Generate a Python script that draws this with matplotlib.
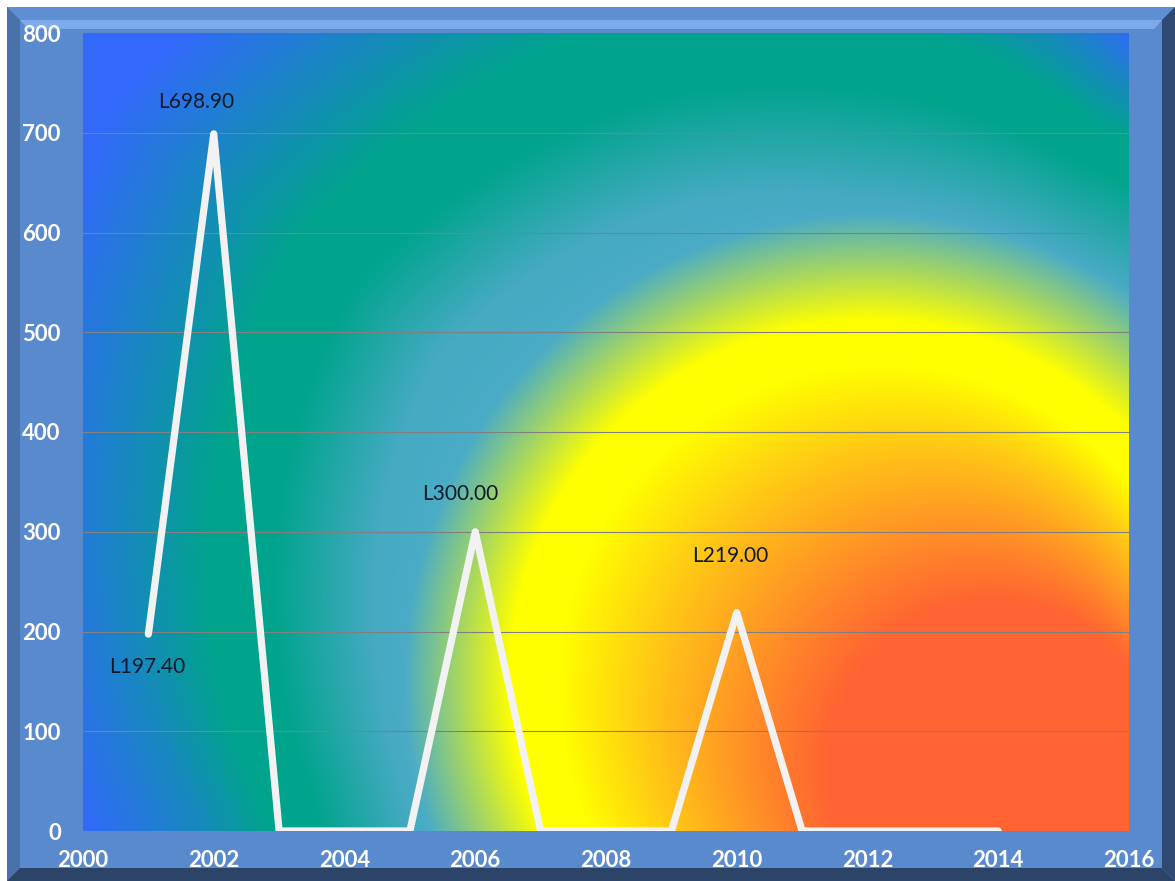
import numpy as np
import matplotlib
matplotlib.use('Agg')
import matplotlib.pyplot as plt
from matplotlib.patches import Polygon

# данные
years = [2001, 2002, 2003, 2004, 2005, 2006, 2007, 2008, 2009, 2010, 2011, 2012, 2013, 2014]
values = [197.4, 698.9, 0, 0, 0, 300.0, 0, 0, 0, 219.0, 0, 0, 0, 0]
labelled = [2001, 2002, 2006, 2010]
label_text = ['L197.40', 'L698.90', 'L300.00', 'L219.00']
label_offsets = [(-1, -24), (-13, 23), (-11, 27), (-5, 41)]  # в пунктах
xticks = list(range(2000, 2017, 2))
yticks = list(range(0, 801, 100))

W, H = 1175, 881
fig = plt.figure(figsize=(W / 100, H / 100), dpi=100)
fig.patch.set_facecolor('white')

def fp(px, py):
    return (px / W, 1 - py / H)

# рамка с фаской
def poly(pts, color):
    fig.add_artist(Polygon([fp(*p) for p in pts], closed=True, transform=fig.transFigure,
                           facecolor=color, edgecolor='none', zorder=0))

poly([(7, 7), (1175, 7), (1175, 881), (7, 881)], '#5A8ACE')
poly([(7, 7), (1175, 7), (1162, 20), (20, 20)], '#5E8FD3')
poly([(20, 20), (1162, 20), (1154, 29), (28, 29)], '#7DAAEA')
poly([(7, 7), (20, 20), (20, 868), (7, 881)], '#4A72AA')
poly([(1175, 7), (1162, 20), (1162, 868), (1175, 881)], '#2E4A72')
poly([(7, 881), (20, 868), (1162, 868), (1175, 881)], '#2C4468')

# область построения
x0, x1, y0, y1 = 83, 1129, 33, 831
l, b = fp(x0, y1)
r, t = fp(x1, y0)
ax = fig.add_axes([l, b, r - l, t - b])

# фон: красное ядро -> жёлтое кольцо -> голубой/зелёный/синий снаружи
xs = x0 + np.arange(x1 - x0) + 0.5
ys = y0 + np.arange(y1 - y0) + 0.5
X, Y = np.meshgrid(xs, ys)

cB, rB = np.array([995.0, 770.0]), 170.0
cC, rC = np.array([870.0, 680.0]), 335.0

# внутренняя часть: семейство окружностей между B и C (бисекция)
lo = np.zeros_like(X)
hi = np.ones_like(X)
for _ in range(30):
    mid = (lo + hi) / 2
    cx = cB[0] + mid * (cC[0] - cB[0])
    cy = cB[1] + mid * (cC[1] - cB[1])
    g = np.hypot(X - cx, Y - cy) - (rB + mid * (rC - rB))
    lo = np.where(g > 0, mid, lo)
    hi = np.where(g > 0, hi, mid)
tin = lo

inner_stops = [0.0, 0.25, 0.6, 0.92, 1.0]
inner_cols = np.array([(255, 100, 50), (255, 140, 40), (255, 198, 22), (255, 255, 0),
                       (255, 255, 0)]) / 255
img_in = np.dstack([np.interp(tin, inner_stops, inner_cols[:, i]) for i in range(3)])

# внешняя часть: концентрично C, радиусы внешних полос зависят от направления
dist = np.hypot(X - cC[0], Y - cC[1])
ang = np.degrees(np.arctan2(Y - cC[1], X - cC[0]))
key_ang = [-180, -143, -110, -90, -68, 0, 90, 169, 180]
rl2 = np.interp(ang, key_ang, [490, 540, 510, 480, 470, 470, 480, 480, 490])
rg1 = np.interp(ang, key_ang, [590, 650, 620, 590, 560, 560, 570, 570, 590])
rg2 = np.interp(ang, key_ang, [650, 720, 700, 660, 600, 600, 620, 620, 650])
rt = np.interp(ang, key_ang, [730, 830, 800, 740, 650, 650, 690, 690, 730])
rb = np.interp(ang, key_ang, [830, 950, 900, 820, 700, 700, 800, 800, 830])
radii = [np.full_like(dist, rC), np.full_like(dist, 360.0), np.full_like(dist, 465.0),
         rl2, rg1, rg2, rt, rb]
out_cols = np.array([(255, 255, 0), (255, 255, 0), (74, 172, 198), (70, 170, 195),
                     (0, 164, 140), (0, 164, 140), (24, 136, 192), (50, 105, 250)]) / 255
u = np.zeros_like(dist)
for i in range(len(radii) - 1):
    u += np.clip((dist - radii[i]) / (radii[i + 1] - radii[i]), 0, 1)
img_out = np.dstack([np.interp(u, np.arange(len(radii)), out_cols[:, i]) for i in range(3)])

img = np.where((dist > rC)[..., None], img_out, img_in)
ax.imshow(img, extent=[2000, 2016, 0, 800], aspect='auto', origin='upper', zorder=0)

ax.set_xlim(2000, 2016)
ax.set_ylim(0, 800)
for yv in yticks[1:-1]:
    ax.axhline(yv, color='#808080', linewidth=0.8, zorder=1)

ax.plot(years, values, color='#F2F2F2', linewidth=5.2, solid_joinstyle='round',
        solid_capstyle='round', zorder=3)

for yr, txt, off in zip(labelled, label_text, label_offsets):
    v = values[years.index(yr)]
    ax.annotate(txt, (yr, v), xytext=off, textcoords='offset points', ha='center', va='center',
                fontsize=15, family='Lato', color='#0E1A2B', zorder=4)

ax.set_xticks(xticks)
ax.set_yticks(yticks)
ax.tick_params(length=0, colors='white', labelsize=16, pad=16)
ax.tick_params(axis='x', pad=14)
for lab in ax.get_xticklabels() + ax.get_yticklabels():
    lab.set_family('Lato')
    lab.set_fontweight('bold')
for sp in ax.spines.values():
    sp.set_visible(False)

fig.savefig('out.png', dpi=100)
